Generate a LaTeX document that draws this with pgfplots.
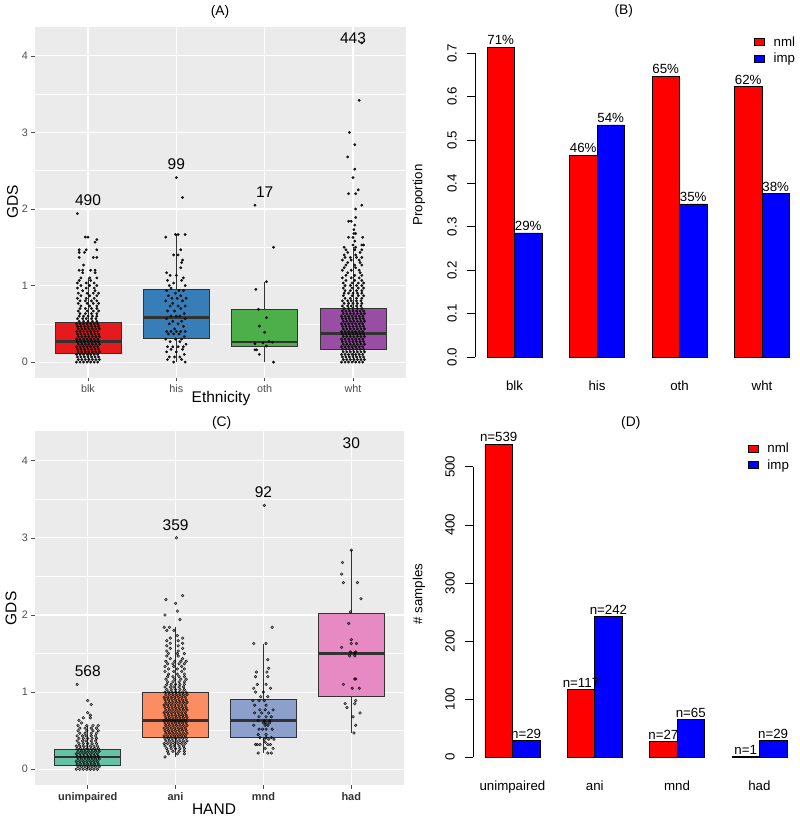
\documentclass[border=0pt]{standalone}
\usepackage{fontspec}
\setmainfont{Liberation Sans}
\usepackage{pgfplots}
\pgfplotsset{compat=1.18}
\usepgfplotslibrary{statistics}
\definecolor{panel}{HTML}{EBEBEB}
\definecolor{grey30}{HTML}{4D4D4D}
\definecolor{boxline}{HTML}{333333}
\definecolor{s1red}{HTML}{E41A1C}
\definecolor{s1blue}{HTML}{377EB8}
\definecolor{s1green}{HTML}{4DAF4A}
\definecolor{s1purple}{HTML}{984EA3}
\definecolor{s2green}{HTML}{66C2A5}
\definecolor{s2orange}{HTML}{FC8D62}
\definecolor{s2blue}{HTML}{8DA0CB}
\definecolor{s2pink}{HTML}{E78AC3}
\newcommand{\fsz}[1]{\fontsize{#1}{#1}\selectfont}

\pgfplotsset{
  gg/.style={scale only axis, axis background/.style={fill=panel},
    axis line style={draw=none}, xmin=0.4, xmax=4.6, ymin=-0.208, ymax=4.378,
    xtick={1,2,3,4}, ytick={0,1,2,3,4}, yticklabels={0,1,2,3,4},
    minor ytick={0.5,1.5,2.5,3.5}, grid=both,
    major grid style={white,line width=1.1pt}, minor grid style={white,line width=0.5pt},
    tick align=outside, major tick length=3.5pt, minor tick length=0pt,
    xtick pos=bottom, ytick pos=left, tick style={grey30,line width=0.6pt},
    tick label style={font=\fsz{10.8}, text=grey30}, clip=false,
    boxplot/draw direction=y},
  bx/.style={boxplot prepared={draw position=#1, box extend=0.75, whisker extend=0},
    /pgfplots/boxplot/every median/.style={line width=2.6pt},
    draw=boxline, line width=0.7pt},
  jitA/.style={only marks, mark=*, mark size=1.3pt, mark options={fill=black!90, draw=black, line width=0.2pt}},
  jitC/.style={only marks, mark=*, mark size=1.35pt, mark options={fill=black, fill opacity=0.35, draw=black, draw opacity=0.9, line width=0.45pt}},
  rb/.style={scale only axis, axis line style={draw=none}, xmin=0.56, xmax=12.44,
    xtick={2,5,8,11}, xtick style={draw=none}, ytick pos=left, tick align=outside,
    major tick length=8pt, ytick style={black,line width=0.6pt},
    tick label style={font=\fsz{13.3}}, clip=false,
    yticklabel style={rotate=90, anchor=south, inner ysep=10pt},
    legend style={draw=none, fill=none, font=\fsz{13.3}, anchor=north west,
      legend cell align=left, row sep=1pt, column sep=7pt}},
  bred/.style={ybar, bar width=1, bar shift=0pt, fill=red, draw=black, line width=0.5pt,
    nodes near coords, point meta=explicit symbolic,
    nodes near coords style={font=\fsz{13.3}, anchor=south, inner sep=2pt},
    legend image code/.code={\draw[fill=red,draw=black,line width=0.5pt] (0pt,-3.5pt) rectangle (10pt,3.5pt);}},
  bblue/.style={ybar, bar width=1, bar shift=0pt, fill=blue, draw=black, line width=0.5pt,
    nodes near coords, point meta=explicit symbolic,
    nodes near coords style={font=\fsz{13.3}, anchor=south, inner sep=2pt},
    legend image code/.code={\draw[fill=blue,draw=black,line width=0.5pt] (0pt,-3.5pt) rectangle (10pt,3.5pt);}},
}

\begin{document}
\begin{tikzpicture}[x=1pt,y=1pt]
\useasboundingbox (0,0) rectangle (800,820);

% ---------------- (A) ----------------
\begin{axis}[gg, at={(35pt,442pt)}, anchor=south west, width=371pt, height=351pt,
  xticklabels={blk,his,oth,wht}]
\addplot[bx=1, fill=s1red, boxplot prepared={lower whisker=0, lower quartile=0.113, median=0.265, upper quartile=0.525, upper whisker=1.1}] coordinates {};
\addplot[bx=2, fill=s1blue, boxplot prepared={lower whisker=0, lower quartile=0.31, median=0.58, upper quartile=0.95, upper whisker=1.67}] coordinates {};
\addplot[bx=3, fill=s1green, boxplot prepared={lower whisker=0, lower quartile=0.21, median=0.26, upper quartile=0.69, upper whisker=1.05}] coordinates {};
\addplot[bx=4, fill=s1purple, boxplot prepared={lower whisker=0, lower quartile=0.16, median=0.37, upper quartile=0.70, upper whisker=1.5}] coordinates {};
% blk
\addplot[jitA] coordinates {
(0.87,0)(0.91,0)(0.95,0)(0.99,0)(1.03,0)(1.07,0)(1.11,0)
(0.89,0.033)(0.93,0.033)(0.97,0.033)(1.01,0.033)(1.05,0.033)(1.09,0.033)(1.13,0.033)
(0.88,0.067)(0.92,0.067)(0.96,0.067)(1,0.067)(1.04,0.067)(1.08,0.067)(1.12,0.067)
(0.87,0.1)(0.91,0.1)(0.95,0.1)(0.99,0.1)(1.03,0.1)(1.07,0.1)(1.11,0.1)
(0.89,0.133)(0.93,0.133)(0.97,0.133)(1.01,0.133)(1.05,0.133)(1.09,0.133)(1.13,0.133)
(0.88,0.167)(0.92,0.167)(0.96,0.167)(1,0.167)(1.04,0.167)(1.08,0.167)(1.12,0.167)
(0.87,0.2)(0.91,0.2)(0.95,0.2)(0.99,0.2)(1.03,0.2)(1.07,0.2)(1.11,0.2)
(0.89,0.233)(0.93,0.233)(0.97,0.233)(1.01,0.233)(1.05,0.233)(1.09,0.233)(1.13,0.233)
(0.88,0.267)(0.92,0.267)(0.96,0.267)(1,0.267)(1.04,0.267)(1.08,0.267)(1.12,0.267)
(0.87,0.3)(0.91,0.3)(0.95,0.3)(0.99,0.3)(1.03,0.3)(1.07,0.3)(1.11,0.3)
(0.89,0.333)(0.93,0.333)(0.97,0.333)(1.01,0.333)(1.05,0.333)(1.09,0.333)(1.13,0.333)
(0.88,0.367)(0.92,0.367)(0.96,0.367)(1,0.367)(1.04,0.367)(1.08,0.367)(1.12,0.367)
(0.87,0.4)(0.91,0.4)(0.95,0.4)(0.99,0.4)(1.03,0.4)(1.07,0.4)(1.11,0.4)
(0.89,0.433)(0.93,0.433)(0.97,0.433)(1.01,0.433)(1.05,0.433)(1.09,0.433)(1.13,0.433)
(0.88,0.467)(0.92,0.467)(0.96,0.467)(1,0.467)(1.04,0.467)(1.08,0.467)(1.12,0.467)
(0.87,0.5)(0.91,0.5)(0.95,0.5)(0.99,0.5)(1.03,0.5)(1.07,0.5)(1.11,0.5)
(0.9,0.533)(0.95,0.533)(1,0.533)(1.05,0.533)(1.1,0.533)
(0.88,0.567)(0.94,0.567)(0.98,0.567)(1.04,0.567)(1.09,0.567)
(0.9,0.6)(0.95,0.6)(1,0.6)(1.05,0.6)(1.1,0.6)
(0.91,0.633)(0.97,0.633)(1.04,0.633)(1.1,0.633)
(0.89,0.667)(0.99,0.667)(1.06,0.667)(1.12,0.667)
(0.91,0.7)(0.97,0.7)(1.04,0.7)(1.1,0.7)
(0.92,0.733)(1.02,0.733)(1.1,0.733)
(0.89,0.767)(0.99,0.767)(1.06,0.767)(1.12,0.767)
(0.91,0.8)(0.97,0.8)(1.04,0.8)(1.1,0.8)
(0.88,0.833)(0.98,0.833)(1.07,0.833)
(0.92,0.867)(1.02,0.867)(1.1,0.867)
(0.89,0.9)(0.99,0.9)(1.06,0.9)(1.12,0.9)
(0.94,0.933)(1.08,0.933)
(0.88,0.967)(0.98,0.967)(1.07,0.967)
(0.92,1)(1.02,1)(1.1,1)
(0.88,1.033)(0.98,1.033)(1.07,1.033)
(0.9,1.067)(1.03,1.067)
(0.92,1.1)(1.02,1.1)(1.1,1.1)
(0.94,1.167)(1.08,1.167)
(0.9,1.2)(0.94,1.2)(1.03,1.2)(1.08,1.2)
(0.95,1.267)
(0.9,1.367)(1.06,1.367)(1.1,1.367)
(0.9,1.433)(0.96,1.433)
(0.9,1.467)(0.98,1.467)(1.1,1.467)
(1.08,1.567)(1.1,1.6)(0.97,1.633)(1,1.633)(0.88,1.94)
};
% his
\addplot[jitA] coordinates {
(1.97,0)(2.1,0)(1.9,0.033)(2.06,0.033)(1.92,0.067)(1.98,0.067)(2.04,0.067)(2.09,0.1)
(1.89,0.133)(2,0.133)(1.94,0.167)(2.07,0.167)(1.9,0.2)(1.96,0.2)(2.02,0.2)(2.08,0.2)
(2.11,0.233)(1.93,0.267)(2.04,0.267)(1.88,0.3)(1.99,0.3)(2.06,0.3)(2.09,0.333)
(1.91,0.367)(1.97,0.367)(2.03,0.367)(1.89,0.4)(1.94,0.4)(2,0.4)(2.05,0.4)(2.1,0.4)
(1.98,0.433)(2.08,0.467)(1.92,0.5)(2.02,0.5)(1.96,0.533)(2.06,0.533)(1.89,0.567)(2.1,0.567)
(1.94,0.6)(2,0.6)(2.04,0.6)(2.09,0.633)(1.9,0.667)(1.98,0.667)(2.05,0.7)
(1.93,0.733)(2.02,0.733)(2.1,0.733)(1.96,0.767)(1.88,0.8)(2.07,0.8)
(1.95,0.833)(2.01,0.833)(2.11,0.833)(1.91,0.867)(2.05,0.867)(1.99,0.9)
(1.89,0.933)(2.03,0.933)(2.08,0.933)(1.94,0.967)(1.92,1)(2.1,1)(1.97,1.033)
(1.9,1.067)(2.06,1.067)(2.08,1.1)(1.93,1.133)(2,1.133)(1.89,1.167)(2.05,1.233)
(2.06,1.3)(2.07,1.333)(1.97,1.4)(2.02,1.4)(2.05,1.467)(1.88,1.633)
(1.99,1.667)(2.02,1.667)(2.1,1.667)(2.07,2.15)(2,2.41)
};
% oth
\addplot[jitA] coordinates {
(2.89,2.05)(3.1,1.5)(3.02,1.05)(2.9,0.95)(2.93,0.69)(3.02,0.58)(2.94,0.47)(3,0.39)
(3.09,0.26)(2.89,0.24)(3.02,0.21)(2.89,0.16)(2.91,0.16)(2.94,0.1)(3.1,0)(2.98,0.25)(3.05,0.27)
};
% wht
\addplot[jitA] coordinates {
(3.87,0)(3.91,0)(3.95,0)(3.99,0)(4.03,0)(4.07,0)(4.11,0)
(3.89,0.033)(3.93,0.033)(3.97,0.033)(4.01,0.033)(4.05,0.033)(4.09,0.033)(4.13,0.033)
(3.88,0.067)(3.92,0.067)(3.96,0.067)(4,0.067)(4.04,0.067)(4.08,0.067)(4.12,0.067)
(3.87,0.1)(3.91,0.1)(3.95,0.1)(3.99,0.1)(4.03,0.1)(4.07,0.1)(4.11,0.1)
(3.89,0.133)(3.93,0.133)(3.97,0.133)(4.01,0.133)(4.05,0.133)(4.09,0.133)(4.13,0.133)
(3.88,0.167)(3.92,0.167)(3.96,0.167)(4,0.167)(4.04,0.167)(4.08,0.167)(4.12,0.167)
(3.87,0.2)(3.91,0.2)(3.95,0.2)(3.99,0.2)(4.03,0.2)(4.07,0.2)(4.11,0.2)
(3.89,0.233)(3.93,0.233)(3.97,0.233)(4.01,0.233)(4.05,0.233)(4.09,0.233)(4.13,0.233)
(3.88,0.267)(3.92,0.267)(3.96,0.267)(4,0.267)(4.04,0.267)(4.08,0.267)(4.12,0.267)
(3.87,0.3)(3.91,0.3)(3.95,0.3)(3.99,0.3)(4.03,0.3)(4.07,0.3)(4.11,0.3)
(3.89,0.333)(3.93,0.333)(3.97,0.333)(4.01,0.333)(4.05,0.333)(4.09,0.333)(4.13,0.333)
(3.88,0.367)(3.92,0.367)(3.96,0.367)(4,0.367)(4.04,0.367)(4.08,0.367)(4.12,0.367)
(3.87,0.4)(3.91,0.4)(3.95,0.4)(3.99,0.4)(4.03,0.4)(4.07,0.4)(4.11,0.4)
(3.89,0.433)(3.93,0.433)(3.97,0.433)(4.01,0.433)(4.05,0.433)(4.09,0.433)(4.13,0.433)
(3.88,0.467)(3.92,0.467)(3.96,0.467)(4,0.467)(4.04,0.467)(4.08,0.467)(4.12,0.467)
(3.87,0.5)(3.91,0.5)(3.95,0.5)(3.99,0.5)(4.03,0.5)(4.07,0.5)(4.11,0.5)
(3.89,0.533)(3.93,0.533)(3.97,0.533)(4.01,0.533)(4.05,0.533)(4.09,0.533)(4.13,0.533)
(3.88,0.567)(3.92,0.567)(3.96,0.567)(4,0.567)(4.04,0.567)(4.08,0.567)(4.12,0.567)
(3.87,0.6)(3.91,0.6)(3.95,0.6)(3.99,0.6)(4.03,0.6)(4.07,0.6)(4.11,0.6)
(3.89,0.633)(3.93,0.633)(3.97,0.633)(4.01,0.633)(4.05,0.633)(4.09,0.633)(4.13,0.633)
(3.88,0.667)(3.92,0.667)(3.96,0.667)(4,0.667)(4.04,0.667)(4.08,0.667)(4.12,0.667)
(3.9,0.7)(3.95,0.7)(4,0.7)(4.05,0.7)(4.1,0.7)
(3.88,0.733)(3.94,0.733)(3.98,0.733)(4.04,0.733)(4.09,0.733)
(3.9,0.767)(3.95,0.767)(4,0.767)(4.05,0.767)(4.1,0.767)
(3.88,0.8)(3.94,0.8)(3.98,0.8)(4.04,0.8)(4.09,0.8)
(3.91,0.833)(3.97,0.833)(4.04,0.833)(4.1,0.833)
(3.89,0.867)(3.99,0.867)(4.06,0.867)(4.12,0.867)
(3.9,0.9)(3.95,0.9)(4,0.9)(4.05,0.9)(4.1,0.9)
(3.91,0.933)(3.97,0.933)(4.04,0.933)(4.1,0.933)
(3.89,0.967)(3.99,0.967)(4.06,0.967)(4.12,0.967)
(3.91,1)(3.97,1)(4.04,1)(4.1,1)
(3.89,1.033)(3.99,1.033)(4.06,1.033)(4.12,1.033)
(3.92,1.067)(4.02,1.067)(4.1,1.067)
(3.88,1.1)(3.98,1.1)(4.07,1.1)
(3.92,1.133)(4.02,1.133)(4.1,1.133)
(3.94,1.167)(4.08,1.167)
(3.88,1.2)(3.98,1.2)(4.07,1.2)
(3.9,1.233)(4.03,1.233)
(3.92,1.267)(4.02,1.267)(4.1,1.267)
(3.94,1.3)(4.08,1.3)
(3.88,1.333)(3.98,1.333)(4.07,1.333)
(3.91,1.367)(3.97,1.367)(4.04,1.367)(4.1,1.367)
(3.9,1.4)(4.03,1.4)
(3.94,1.433)(4.08,1.433)
(3.92,1.467)(4.02,1.467)(4.1,1.467)
(3.9,1.5)(4.03,1.5)
(4,1.53)(4.1,1.53)(4.12,1.53)(4.02,1.58)(3.95,1.63)(4,1.63)(4.11,1.63)(4.01,1.68)(4.03,1.68)
(4.01,1.73)(4.02,1.79)(3.95,1.84)(3.98,1.84)(4.03,1.89)(4.03,2.0)(4.1,2.05)(3.95,2.2)(4.03,2.2)
(4.06,2.25)(4,2.41)(4.02,2.52)(3.94,2.68)(4.02,2.84)(3.96,3.0)(4.07,3.42)(4.1,4.17)
};
\node[font=\fsz{15.5}] at (axis cs:1,2.11) {490};
\node[font=\fsz{15.5}] at (axis cs:2,2.59) {99};
\node[font=\fsz{15.5}] at (axis cs:3,2.22) {17};
\node[font=\fsz{15.5}] at (axis cs:4,4.23) {443};
\end{axis}
\node[font=\fsz{13.8}] at (220,807.7) {(A)};
\node[font=\fsz{15.5}] at (221,421.5) {Ethnicity};
\node[font=\fsz{15.5}, rotate=90] at (12.5,618) {GDS};

% ---------------- (C) ----------------
\begin{axis}[gg, at={(35pt,34.7pt)}, anchor=south west, width=369pt, height=353.8pt,
  xticklabels={unimpaired,ani,mnd,had}, xticklabel style={font=\fsz{11}\bfseries, text=black!80}]
\addplot[bx=1, fill=s2green, boxplot prepared={lower whisker=0, lower quartile=0.05, median=0.16, upper quartile=0.26, upper whisker=0.567}] coordinates {};
\addplot[bx=2, fill=s2orange, boxplot prepared={lower whisker=0.16, lower quartile=0.42, median=0.63, upper quartile=1.0, upper whisker=1.84}] coordinates {};
\addplot[bx=3, fill=s2blue, boxplot prepared={lower whisker=0.21, lower quartile=0.42, median=0.63, upper quartile=0.91, upper whisker=1.63}] coordinates {};
\addplot[bx=4, fill=s2pink, boxplot prepared={lower whisker=0.47, lower quartile=0.94, median=1.5, upper quartile=2.02, upper whisker=2.84}] coordinates {};
% unimpaired
\addplot[jitC] coordinates {
(0.87,0)(0.91,0)(0.95,0)(0.99,0)(1.03,0)(1.07,0)(1.11,0)
(0.89,0.033)(0.93,0.033)(0.97,0.033)(1.01,0.033)(1.05,0.033)(1.09,0.033)(1.13,0.033)
(0.88,0.067)(0.92,0.067)(0.96,0.067)(1,0.067)(1.04,0.067)(1.08,0.067)(1.12,0.067)
(0.87,0.1)(0.91,0.1)(0.95,0.1)(0.99,0.1)(1.03,0.1)(1.07,0.1)(1.11,0.1)
(0.89,0.133)(0.93,0.133)(0.97,0.133)(1.01,0.133)(1.05,0.133)(1.09,0.133)(1.13,0.133)
(0.88,0.167)(0.92,0.167)(0.96,0.167)(1,0.167)(1.04,0.167)(1.08,0.167)(1.12,0.167)
(0.87,0.2)(0.91,0.2)(0.95,0.2)(0.99,0.2)(1.03,0.2)(1.07,0.2)(1.11,0.2)
(0.89,0.233)(0.93,0.233)(0.97,0.233)(1.01,0.233)(1.05,0.233)(1.09,0.233)(1.13,0.233)
(0.88,0.267)(0.92,0.267)(0.96,0.267)(1,0.267)(1.04,0.267)(1.08,0.267)(1.12,0.267)
(0.87,0.3)(0.91,0.3)(0.95,0.3)(0.99,0.3)(1.03,0.3)(1.07,0.3)(1.11,0.3)
(0.9,0.333)(0.95,0.333)(1,0.333)(1.05,0.333)(1.1,0.333)
(0.88,0.367)(0.94,0.367)(0.98,0.367)(1.04,0.367)(1.09,0.367)
(0.9,0.4)(0.95,0.4)(1,0.4)(1.05,0.4)(1.1,0.4)
(0.88,0.433)(0.94,0.433)(0.98,0.433)(1.04,0.433)(1.09,0.433)
(0.91,0.467)(0.97,0.467)(1.04,0.467)(1.1,0.467)
(0.89,0.5)(0.99,0.5)(1.06,0.5)(1.12,0.5)
(0.91,0.533)(0.97,0.533)(1.04,0.533)(1.1,0.533)
(0.89,0.567)(0.99,0.567)(1.06,0.567)(1.12,0.567)
(0.93,0.6)(0.9,0.633)(0.95,0.667)(1.03,0.667)(1.03,0.7)(1,0.733)(1.04,0.84)(1,0.89)(0.88,1.1)
};
% ani
\addplot[jitC] coordinates {
(1.88,0.16)(1.92,0.2)(2.02,0.2)(2.1,0.2)
(1.91,0.233)(1.97,0.233)(2.04,0.233)(2.1,0.233)
(1.9,0.267)(1.95,0.267)(2,0.267)(2.05,0.267)(2.1,0.267)
(1.88,0.3)(1.94,0.3)(1.98,0.3)(2.04,0.3)(2.09,0.3)
(1.87,0.333)(1.91,0.333)(1.95,0.333)(1.99,0.333)(2.03,0.333)(2.07,0.333)(2.11,0.333)
(1.89,0.367)(1.93,0.367)(1.97,0.367)(2.01,0.367)(2.05,0.367)(2.09,0.367)(2.13,0.367)
(1.88,0.4)(1.92,0.4)(1.96,0.4)(2,0.4)(2.04,0.4)(2.08,0.4)(2.12,0.4)
(1.87,0.433)(1.91,0.433)(1.95,0.433)(1.99,0.433)(2.03,0.433)(2.07,0.433)(2.11,0.433)
(1.89,0.467)(1.93,0.467)(1.97,0.467)(2.01,0.467)(2.05,0.467)(2.09,0.467)(2.13,0.467)
(1.88,0.5)(1.92,0.5)(1.96,0.5)(2,0.5)(2.04,0.5)(2.08,0.5)(2.12,0.5)
(1.87,0.533)(1.91,0.533)(1.95,0.533)(1.99,0.533)(2.03,0.533)(2.07,0.533)(2.11,0.533)
(1.89,0.567)(1.93,0.567)(1.97,0.567)(2.01,0.567)(2.05,0.567)(2.09,0.567)(2.13,0.567)
(1.88,0.6)(1.92,0.6)(1.96,0.6)(2,0.6)(2.04,0.6)(2.08,0.6)(2.12,0.6)
(1.87,0.633)(1.91,0.633)(1.95,0.633)(1.99,0.633)(2.03,0.633)(2.07,0.633)(2.11,0.633)
(1.89,0.667)(1.93,0.667)(1.97,0.667)(2.01,0.667)(2.05,0.667)(2.09,0.667)(2.13,0.667)
(1.88,0.7)(1.92,0.7)(1.96,0.7)(2,0.7)(2.04,0.7)(2.08,0.7)(2.12,0.7)
(1.87,0.733)(1.91,0.733)(1.95,0.733)(1.99,0.733)(2.03,0.733)(2.07,0.733)(2.11,0.733)
(1.89,0.767)(1.93,0.767)(1.97,0.767)(2.01,0.767)(2.05,0.767)(2.09,0.767)(2.13,0.767)
(1.88,0.8)(1.92,0.8)(1.96,0.8)(2,0.8)(2.04,0.8)(2.08,0.8)(2.12,0.8)
(1.87,0.833)(1.91,0.833)(1.95,0.833)(1.99,0.833)(2.03,0.833)(2.07,0.833)(2.11,0.833)
(1.89,0.867)(1.93,0.867)(1.97,0.867)(2.01,0.867)(2.05,0.867)(2.09,0.867)(2.13,0.867)
(1.88,0.9)(1.92,0.9)(1.96,0.9)(2,0.9)(2.04,0.9)(2.08,0.9)(2.12,0.9)
(1.87,0.933)(1.91,0.933)(1.95,0.933)(1.99,0.933)(2.03,0.933)(2.07,0.933)(2.11,0.933)
(1.89,0.967)(1.93,0.967)(1.97,0.967)(2.01,0.967)(2.05,0.967)(2.09,0.967)(2.13,0.967)
(1.88,1)(1.92,1)(1.96,1)(2,1)(2.04,1)(2.08,1)(2.12,1)
(1.9,1.033)(1.95,1.033)(2,1.033)(2.05,1.033)(2.1,1.033)
(1.88,1.067)(1.94,1.067)(1.98,1.067)(2.04,1.067)(2.09,1.067)
(1.9,1.1)(1.95,1.1)(2,1.1)(2.05,1.1)(2.1,1.1)
(1.91,1.133)(1.97,1.133)(2.04,1.133)(2.1,1.133)
(1.89,1.167)(1.99,1.167)(2.06,1.167)(2.12,1.167)
(1.91,1.2)(1.97,1.2)(2.04,1.2)(2.1,1.2)
(1.92,1.233)(2.02,1.233)(2.1,1.233)
(1.88,1.267)(1.98,1.267)(2.07,1.267)
(1.92,1.3)(2.02,1.3)(2.1,1.3)
(1.88,1.333)(1.98,1.333)(2.07,1.333)
(1.91,1.367)(1.97,1.367)(2.04,1.367)(2.1,1.367)
(1.89,1.4)(1.99,1.4)(2.06,1.4)(2.12,1.4)
(1.94,1.433)(2.08,1.433)(1.9,1.467)(2.03,1.467)
(1.92,1.5)(2.02,1.5)(2.1,1.5)(1.9,1.533)(2.03,1.533)
(1.94,1.567)(2.08,1.567)(1.9,1.6)(2.03,1.6)(1.94,1.633)(2.08,1.633)
(1.9,1.667)(2.03,1.667)(1.94,1.7)(2.08,1.7)(2.02,1.733)(1.9,1.8)(1.98,1.8)(1.87,1.84)(1.93,1.84)
(2.05,1.94)(1.88,2)(2.02,2.05)(2,2.15)(1.89,2.2)(2.08,2.25)(2.01,3)
};
% mnd
\addplot[jitC] coordinates {
(2.94,0.21)(3.05,0.21)(3.09,0.21)(3.02,0.27)(3.11,0.27)
(2.91,0.32)(2.93,0.32)(2.96,0.32)(3.05,0.32)(3.08,0.32)(3.02,0.35)
(3.01,0.39)(3.06,0.39)(3.12,0.39)(2.96,0.41)(3.03,0.41)(3.09,0.41)
(2.94,0.45)(3.03,0.45)(2.95,0.52)(2.99,0.52)(3.03,0.52)(3.1,0.52)
(2.89,0.57)(3.02,0.57)(3.05,0.57)(3,0.6)(3.03,0.6)(3.07,0.6)
(2.94,0.63)(3.01,0.63)(3.07,0.63)(2.95,0.68)(3.03,0.68)(3.09,0.68)
(2.9,0.73)(2.98,0.73)(3.06,0.73)(2.96,0.77)(3.02,0.77)(3.11,0.77)
(2.9,0.83)(3.03,0.83)(2.88,0.89)(2.95,0.89)(3.01,0.89)(2.97,0.94)(3.05,0.94)
(2.91,1)(3,1)(2.89,1.05)(3.08,1.05)(2.93,1.1)(3.03,1.1)(2.91,1.2)(3.05,1.2)
(2.92,1.26)(3.04,1.26)(3.06,1.31)(3.05,1.42)(2.89,1.63)(3.03,1.63)(3.1,1.84)(3.01,3.42)
};
% had
\addplot[jitC] coordinates {
(4,2.84)(3.9,2.68)(3.89,2.53)(3.91,2.42)(4.07,2.42)(4.11,2.21)(3.99,2.04)(3.97,1.89)
(4,1.68)(4,1.63)(4.06,1.63)(3.89,1.58)(4.05,1.52)(4.04,1.51)(3.99,1.52)(3.98,1.47)(4.04,1.47)
(4.05,1.17)(4.04,1.17)(3.91,1.1)(4.01,1.05)(4.09,1.05)(3.93,0.85)(3.95,0.8)(4.05,0.89)
(4.04,0.85)(4.1,0.73)(4.02,0.68)(4.05,0.57)(4.03,0.47)
};
\node[font=\fsz{15.5}] at (axis cs:1,1.265) {568};
\node[font=\fsz{15.5}] at (axis cs:2,3.17) {359};
\node[font=\fsz{15.5}] at (axis cs:3,3.59) {92};
\node[font=\fsz{15.5}] at (axis cs:4,4.23) {30};
\end{axis}
\node[font=\fsz{13.8}] at (221.7,397.3) {(C)};
\node[font=\fsz{15.5}] at (214,10.7) {HAND};
\node[font=\fsz{15.5}, rotate=90] at (11,211.6) {GDS};

% ---------------- (B) ----------------
\begin{axis}[rb, at={(474.9pt,450.6pt)}, anchor=south west, width=326.7pt, height=334.8pt,
  ymin=-0.02857, ymax=0.74286, ytick={0,0.1,0.2,0.3,0.4,0.5,0.6,0.7},
  yticklabels={0.0,0.1,0.2,0.3,0.4,0.5,0.6,0.7},
  xticklabels={blk,his,oth,wht},
  legend style={at={(rel axis cs:0.845,1.0065)}}]
\addplot[bred] coordinates {(1.5,0.714)[71\%] (4.5,0.465)[46\%] (7.5,0.647)[65\%] (10.5,0.623)[62\%]};
\addlegendentry{nml}
\addplot[bblue] coordinates {(2.5,0.286)[29\%] (5.5,0.535)[54\%] (8.5,0.353)[35\%] (11.5,0.377)[38\%]};
\addlegendentry{imp}
\draw[black, line width=0.6pt] (axis cs:0.56,0) -- (axis cs:0.56,0.7);
\end{axis}
\node[font=\fsz{13.8}] at (623.8,809) {(B)};
\node[font=\fsz{13.3}, rotate=90] at (419,625) {Proportion};

% ---------------- (D) ----------------
\begin{axis}[rb, at={(472.9pt,50.2pt)}, anchor=south west, width=326pt, height=338.2pt,
  ymin=-21.56, ymax=560.56, ytick={0,100,200,300,400,500},
  yticklabels={0,100,200,300,400,500},
  xticklabels={unimpaired,ani,mnd,had},
  legend style={at={(rel axis cs:0.834,0.978)}}]
\addplot[bred] coordinates {(1.5,539)[n=539] (4.5,117)[n=117] (7.5,27)[n=27] (10.5,1)[n=1]};
\addlegendentry{nml}
\addplot[bblue] coordinates {(2.5,29)[n=29] (5.5,242)[n=242] (8.5,65)[n=65] (11.5,29)[n=29]};
\addlegendentry{imp}
\draw[black, line width=0.6pt] (axis cs:0.56,0) -- (axis cs:0.56,500);
\end{axis}
\node[font=\fsz{13.8}] at (630.8,397.3) {(D)};
\node[font=\fsz{13.3}, rotate=90] at (419,226) {\# samples};
\end{tikzpicture}
\end{document}
